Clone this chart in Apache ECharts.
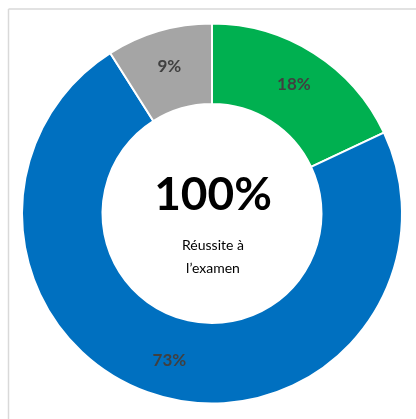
<!DOCTYPE html>
<html>
<head>
<meta charset="utf-8">
<script src="https://cdn.jsdelivr.net/npm/echarts@6/dist/echarts.min.js"></script>
<style>
html,body{margin:0;padding:0;background:#fff;}
#chart{width:416px;height:419px;}
</style>
</head>
<body>
<div id="chart"></div>
<script>
const categories = ['Catégorie A', 'Catégorie B', 'Catégorie C'];
const values = [18, 73, 9];
const colors = ['#00B050', '#0070C0', '#A5A5A5'];
const centerTitle = '100%';
const centerLines = ['Réussite à', 'l\u2019examen'];

const FONT = 'Lato, "Liberation Sans", Arial, sans-serif';
const chart = echarts.init(document.getElementById('chart'), null, {renderer: 'canvas'});
chart.setOption({
  animation: false,
  graphic: [
    {type: 'line', shape: {x1: 8.5, y1: 9, x2: 416, y2: 9}, style: {stroke: '#D9D9D9', lineWidth: 1.5}},
    {type: 'line', shape: {x1: 8.5, y1: 9, x2: 8.5, y2: 419}, style: {stroke: '#D9D9D9', lineWidth: 1.5}},
    {type: 'text', x: 213, y: 195, style: {text: centerTitle, font: 'bold 46px ' + FONT, fill: '#000', textAlign: 'center', textVerticalAlign: 'middle'}},
    {type: 'text', x: 213, y: 245, style: {text: centerLines[0], font: '14px ' + FONT, fill: '#000', textAlign: 'center', textVerticalAlign: 'middle'}},
    {type: 'text', x: 213, y: 268, style: {text: centerLines[1], font: '14px ' + FONT, fill: '#000', textAlign: 'center', textVerticalAlign: 'middle'}}
  ],
  series: [{
    type: 'pie',
    center: [212, 213.5],
    radius: [109.5, 190],
    startAngle: 90,
    clockwise: true,
    avoidLabelOverlap: false,
    itemStyle: {borderColor: '#fff', borderWidth: 2},
    label: {
      show: true,
      position: 'inside',
      formatter: '{c}%',
      color: '#404040',
      fontWeight: 'bold',
      fontSize: 17,
      fontFamily: FONT
    },
    labelLine: {show: false},
    emphasis: {disabled: true},
    data: categories.map((c, i) => ({name: c, value: values[i], itemStyle: {color: colors[i]}}))
  }]
});
</script>
</body>
</html>
